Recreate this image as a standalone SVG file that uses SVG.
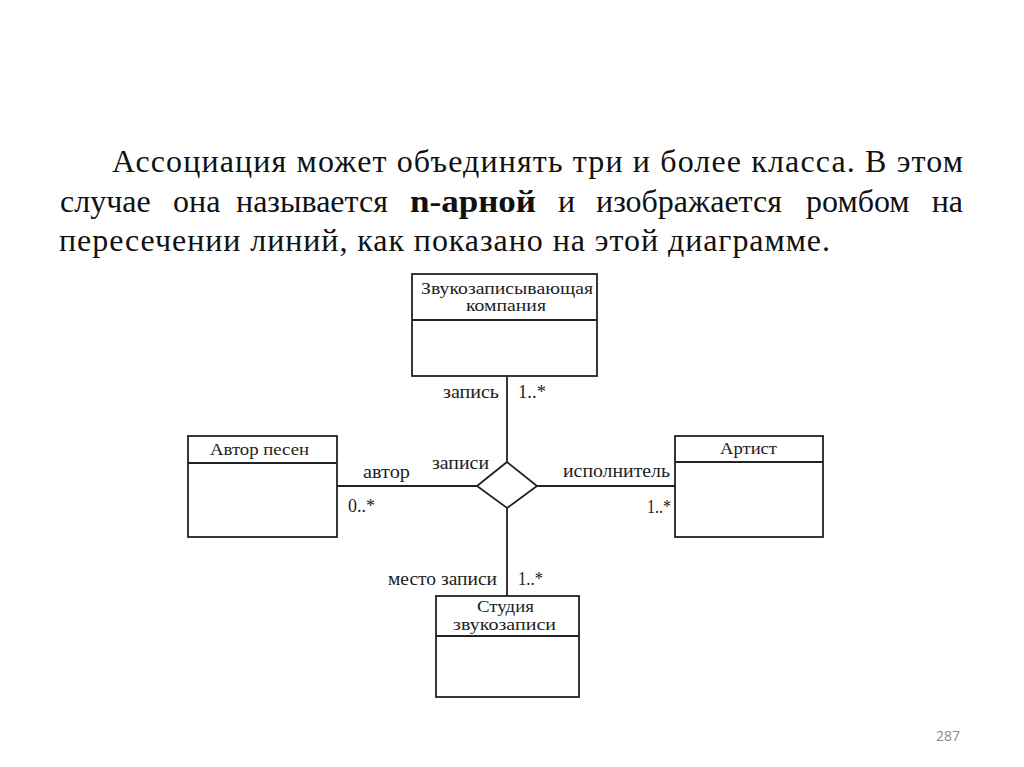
<svg xmlns="http://www.w3.org/2000/svg" width="1024" height="767" viewBox="0 0 1024 767">
<style>
.para{font-family:"Liberation Serif","Times New Roman",serif;font-size:32px;fill:#111}
.b{font-weight:bold}
.cls{font-family:"Liberation Serif","Times New Roman",serif;font-size:17px;fill:#222}
.lbl{font-family:"Liberation Serif","Times New Roman",serif;font-size:18px;fill:#222}
.box{fill:#fff;stroke:#222;stroke-width:1.8}
.ln{stroke:#222;stroke-width:1.8;fill:none}
</style>
<rect width="1024" height="767" fill="#fff"/>
<g id="paragraph">
<text class="para" x="112" y="172" textLength="851" lengthAdjust="spacing">Ассоциация может объединять три и более класса. В этом</text>
<text class="para" y="212"><tspan x="60">случае</tspan><tspan x="173">она</tspan><tspan x="236">называется</tspan><tspan x="410" class="b" textLength="126" lengthAdjust="spacingAndGlyphs">n-арной</tspan><tspan x="558">и</tspan><tspan x="596">изображается</tspan><tspan x="806">ромбом</tspan></text>
<text class="para" x="963" y="212" text-anchor="end">на</text>
<text class="para" x="59" y="251" textLength="771" lengthAdjust="spacing">пересечении линий, как показано на этой диаграмме.</text>
</g>
<g id="connectors">
<line class="ln" x1="507" y1="376" x2="507" y2="462"/>
<line class="ln" x1="507" y1="508" x2="507" y2="596"/>
<line class="ln" x1="337" y1="486" x2="477" y2="486"/>
<line class="ln" x1="537" y1="486" x2="675" y2="486"/>
<polygon id="diamond" class="ln" points="477,486 507,462 537,486 507,508" fill="#fff"/>
<text class="lbl" x="443" y="398" textLength="56" lengthAdjust="spacingAndGlyphs">запись</text>
<text class="lbl" x="518" y="398" textLength="28" lengthAdjust="spacingAndGlyphs">1..*</text>
<text class="lbl" x="363" y="478" textLength="47" lengthAdjust="spacingAndGlyphs">автор</text>
<text class="lbl" x="432" y="469" textLength="57" lengthAdjust="spacingAndGlyphs">записи</text>
<text class="lbl" x="348" y="512" textLength="27" lengthAdjust="spacingAndGlyphs">0..*</text>
<text class="lbl" x="563" y="477" textLength="107" lengthAdjust="spacingAndGlyphs">исполнитель</text>
<text class="lbl" x="647" y="513" textLength="24" lengthAdjust="spacingAndGlyphs">1..*</text>
<text class="lbl" x="388" y="585" textLength="109" lengthAdjust="spacingAndGlyphs">место записи</text>
<text class="lbl" x="518" y="585" textLength="25" lengthAdjust="spacingAndGlyphs">1..*</text>
</g>
<g id="node-company">
<rect class="box" x="412" y="274" width="185" height="102"/>
<line class="ln" x1="412" y1="320" x2="597" y2="320"/>
<text class="cls" x="421" y="294" textLength="172" lengthAdjust="spacingAndGlyphs">Звукозаписывающая</text>
<text class="cls" x="466" y="311" textLength="80" lengthAdjust="spacingAndGlyphs">компания</text>
</g>
<g id="node-author">
<rect class="box" x="188" y="436" width="149" height="101"/>
<line class="ln" x1="188" y1="463" x2="337" y2="463"/>
<text class="cls" x="210" y="455" textLength="99" lengthAdjust="spacingAndGlyphs">Автор песен</text>
</g>
<g id="node-artist">
<rect class="box" x="675" y="436" width="148" height="101"/>
<line class="ln" x1="675" y1="462" x2="823" y2="462"/>
<text class="cls" x="720" y="454" textLength="57" lengthAdjust="spacingAndGlyphs">Артист</text>
</g>
<g id="node-studio">
<rect class="box" x="436" y="596" width="143" height="101"/>
<line class="ln" x1="436" y1="636" x2="579" y2="636"/>
<text class="cls" x="477" y="612" textLength="57" lengthAdjust="spacingAndGlyphs">Студия</text>
<text class="cls" x="453" y="630" textLength="103" lengthAdjust="spacingAndGlyphs">звукозаписи</text>
</g>
<text x="948" y="741" text-anchor="middle" font-family="Open Sans, sans-serif" font-size="14" fill="#8a8a8a">287</text>
</svg>
